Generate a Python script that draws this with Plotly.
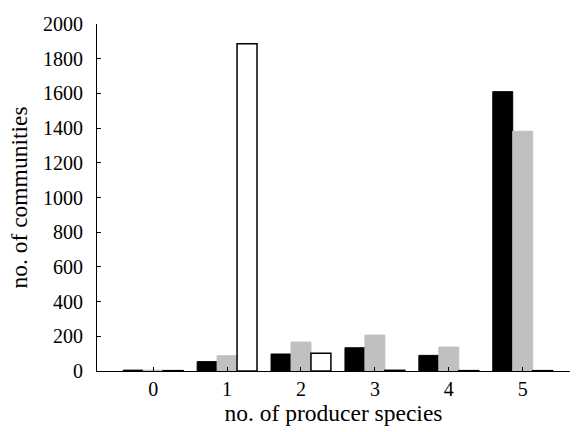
import plotly.graph_objects as go

categories = [0, 1, 2, 3, 4, 5]
series_black = [5, 54, 98, 134, 90, 1610]
series_gray = [5, 88, 167, 207, 138, 1382]
series_white = [2, 1886, 102, 4, 2, 2]
y_ticks = [0, 200, 400, 600, 800, 1000, 1200, 1400, 1600, 1800, 2000]

font = "Liberation Serif"

fig = go.Figure()
fig.add_trace(go.Bar(x=categories, y=series_black, marker=dict(color="black", line=dict(color="black", width=1))))
fig.add_trace(go.Bar(x=categories, y=series_gray, marker=dict(color="#c0c0c0", line=dict(color="#c0c0c0", width=1))))
fig.add_trace(go.Bar(x=categories, y=series_white, marker=dict(color="white", line=dict(color="black", width=1.5))))

fig.update_layout(
    width=576, height=432,
    barmode="group", bargap=0.19, bargroupgap=0,
    showlegend=False,
    plot_bgcolor="white", paper_bgcolor="white",
    margin=dict(l=97, r=6, t=24, b=61),
    font=dict(family=font, size=20, color="black"),
    xaxis=dict(
        range=[-0.76, 5.64], tickvals=categories, ticktext=[str(c) for c in categories],
        showline=True, linecolor="black", linewidth=1.2, ticks="inside", ticklen=4, tickcolor="black",
        showgrid=False, zeroline=False, tickfont=dict(family=font, size=20),
        title=dict(text="no. of producer species", font=dict(family=font, size=23.5), standoff=5),
    ),
    yaxis=dict(
        range=[0, 2000], tickvals=y_ticks,
        showline=True, linecolor="black", linewidth=1.2, ticks="inside", ticklen=4, tickcolor="black",
        showgrid=False, zeroline=False, tickfont=dict(family=font, size=20), ticklabelstandoff=9,
        title=dict(text="no. of communities", font=dict(family=font, size=23.5), standoff=8),
    ),
)

fig.write_html("out.html", config={"displayModeBar": False},
               post_script="document.body.style.margin='0';")
